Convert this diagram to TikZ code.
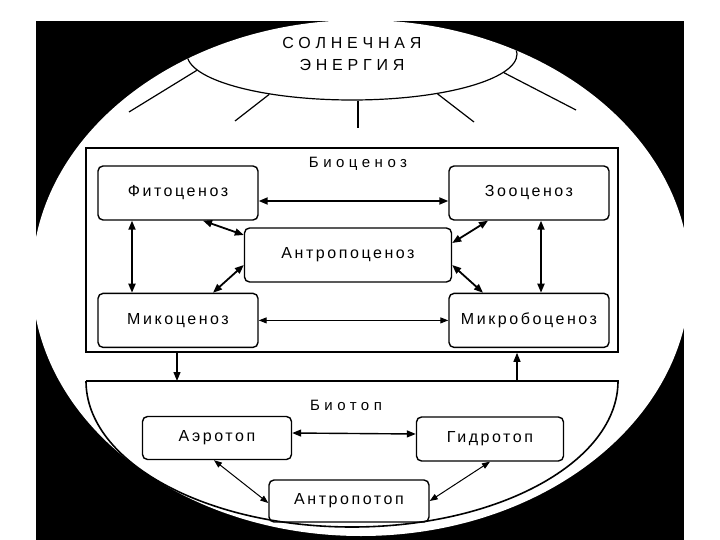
\documentclass[tikz,border=0pt]{standalone}
\usepackage{fontspec}
\setmainfont{Liberation Sans}
\usepackage{tikz}
\usetikzlibrary{positioning}
\usetikzlibrary{arrows.meta}
\usetikzlibrary{shapes.geometric}
\newfontfamily\boxfont[LetterSpace=16]{Liberation Sans}
\newfontfamily\widefont[LetterSpace=30]{Liberation Sans}

\begin{document}
\begin{tikzpicture}[
		x=1pt, y=-1pt,
		arrow/.style={{Triangle[length=9pt,width=7pt]}-{Triangle[length=9pt,width=7pt]}, draw=black, line width=1.8pt},
		thin arrow/.style={{Triangle[length=8pt,width=6pt]}-{Triangle[length=8pt,width=6pt]}, draw=black, line width=1pt},
		flow/.style={-{Triangle[length=9pt,width=7pt]}, draw=black, line width=1.2pt},
		box/.style={draw=black, line width=1.4pt, rounded corners=5pt, minimum width=160pt, minimum height=54pt, font=\boxfont\fontsize{16}{18}\selectfont},
		frame/.style={draw=black, line width=1.6pt},
		region label/.style={inner sep=0pt, font=\widefont\fontsize{15}{18}\selectfont},
		ray/.style={draw=black, line width=1.2pt},
		sun/.style={ellipse, draw=black, line width=1.2pt, minimum width=330pt, minimum height=92pt, align=center, font=\widefont\fontsize{16}{22}\selectfont},
	]
	\useasboundingbox (0,0) rectangle (720,540);
	% Background
	\fill[black] (36,21) rectangle (684,540);
	\fill[white] (361,278) ellipse [x radius=329, y radius=258];
	% Sun
	\begin{scope}
		\clip (361,278) ellipse [x radius=329, y radius=258];
		\node[sun] (sun) at (352,54) {СОЛНЕЧНАЯ\\ЭНЕРГИЯ};
	\end{scope}
	\coordinate (ray 1) at (129,112);
	\coordinate (ray 2) at (235,121);
	\coordinate (ray 3) at (358,128);
	\coordinate (ray 4) at (474,122);
	\coordinate (ray 5) at (576,110);
	\draw[ray] (sun.186) -- (ray 1);
	\draw[ray] (sun.206) -- (ray 2);
	\draw[ray] (sun.south -| ray 3) -- (ray 3);
	\draw[ray] (sun.335) -- (ray 4);
	\draw[ray] (sun.353) -- (ray 5);
	% Biocenosis
	\node[frame, minimum width=532pt, minimum height=204pt, inner sep=0pt] (bio) at (352,250) {};
	\node[region label, below=10pt of bio.north, xshift=6pt] (bio label) {Биоценоз};
	\node[box] (phyto) at (178,193) {Фитоценоз};
	\node[box] (zoo) at (529,193) {Зооценоз};
	\node[box, minimum width=207pt] (anthropo) at (348,255) {Антропоценоз};
	\node[box, below=72pt of phyto] (myco) {Микоценоз};
	\node[box, below=72pt of zoo] (microbo) {Микробоценоз};
	% Biotope
	\coordinate (biotop west) at (86,381);
	\coordinate (biotop east) at (618,381);
	\draw[frame] (biotop west) -- (biotop east) arc[start angle=0, end angle=180, x radius=266, y radius=146];
	\node[region label, anchor=north] (biotop label) at (346,400) {Биотоп};
	\node[box, minimum width=149pt, minimum height=43pt] (aero) at (217,438) {Аэротоп};
	\node[box, minimum width=147pt, minimum height=44pt] (hydro) at (490,439) {Гидротоп};
	\node[box, minimum width=160pt, minimum height=42pt] (anthropotop) at (349,501) {Антропотоп};
	% Biocenosis links
	\draw[arrow] ([yshift=-8pt]phyto.east) -- ([yshift=-8pt]zoo.west);
	\draw[thin arrow] (myco.east) -- (microbo.west);
	\draw[arrow] ([xshift=-46pt]phyto.south) -- ([xshift=-46pt]myco.north);
	\draw[arrow] ([xshift=12pt]zoo.south) -- ([xshift=12pt]microbo.north);
	\draw[arrow] ([xshift=25pt]phyto.south) -- ([yshift=20pt]anthropo.west);
	\draw[arrow] ([xshift=-41pt]zoo.south) -- ([yshift=12pt]anthropo.east);
	\draw[arrow] ([xshift=35pt]myco.north) -- ([yshift=-10pt]anthropo.west);
	\draw[arrow] ([xshift=-46pt]microbo.north) -- ([yshift=-10pt]anthropo.east);
	% Exchange with biotope
	\draw[flow] ([xshift=-175pt]bio.south) -- ([xshift=-175pt]bio.south |- biotop west);
	\draw[flow] ([xshift=165pt]bio.south |- biotop east) -- ([xshift=165pt]bio.south);
	% Biotope links
	\draw[arrow, line width=1.4pt] ([yshift=5pt]aero.east) -- ([yshift=5pt]hydro.west);
	\draw[thin arrow] ([xshift=-3pt]aero.south) -- ([yshift=-2pt]anthropotop.west);
	\draw[thin arrow] (hydro.south) -- (anthropotop.east);
\end{tikzpicture}
\end{document}
